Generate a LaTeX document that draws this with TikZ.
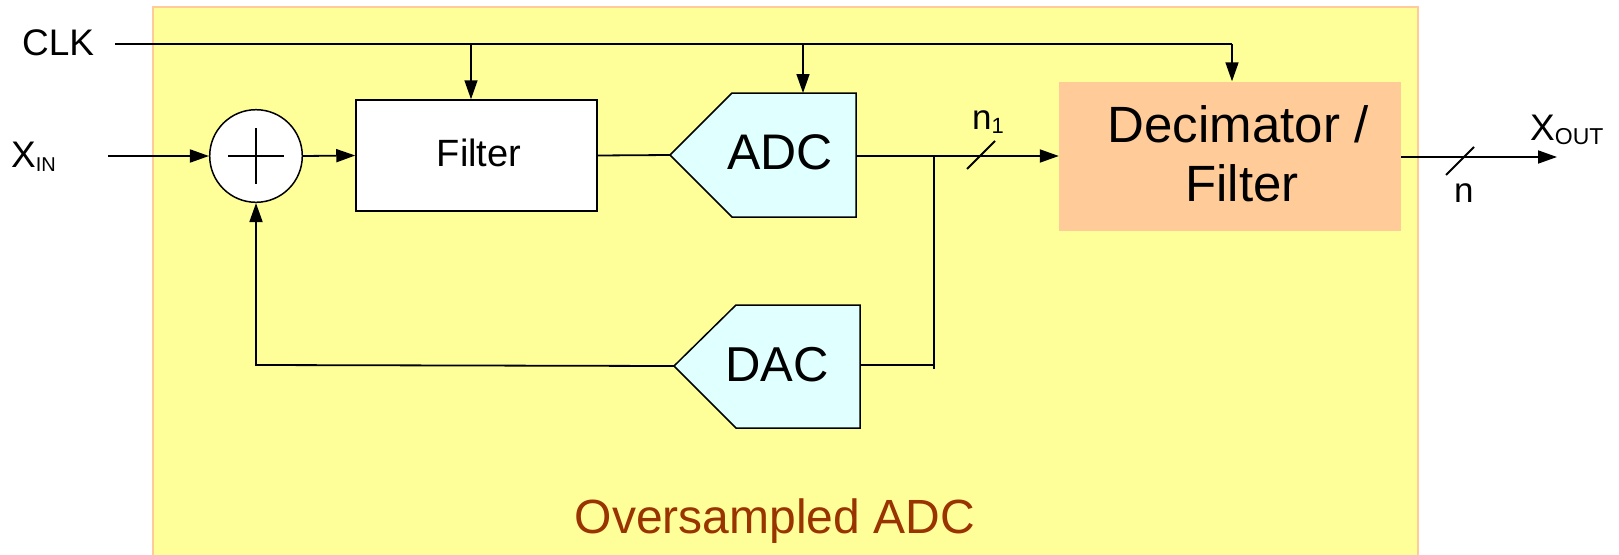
\documentclass[tikz,border=0pt]{standalone}
\usepackage{fontspec}
\setmainfont{Liberation Sans}
\usetikzlibrary{arrows.meta}
\definecolor{bgyellow}{HTML}{FFFF99}
\definecolor{bgedge}{HTML}{FFCC99}
\definecolor{decfill}{HTML}{FFCC99}
\definecolor{convfill}{HTML}{E0FFFF}
\definecolor{titlebrown}{HTML}{993300}
\newcommand\myfs[1]{\fontsize{#1}{#1}\selectfont}
\begin{document}
\begin{tikzpicture}[x=1pt,y=-1pt,
  wire/.style={line width=1.8pt,draw=black},
  clkwire/.style={line width=1.5pt,draw=black},
  arr/.style={wire,-{Triangle[length=19pt,width=13pt]}},
  clkarr/.style={clkwire,-{Triangle[length=19pt,width=13pt]}},
  blockbox/.style={draw=black,line width=1.5pt,fill=white,inner sep=0pt},
  convbox/.style={draw=black,line width=1.5pt,fill=convfill},
  lbl/.style={inner sep=0pt,anchor=base,text=black},
]
\useasboundingbox (0,0) rectangle (1619,554);
% background panel
\path[fill=bgyellow,draw=bgedge,line width=2pt] (153,7) rectangle (1418,570);

% blocks
\node[blockbox,circle,minimum size=92.6pt] (sum) at (256,156) {};
\draw[line width=1.5pt] (228,156) -- (284,156) (256,128) -- (256,184);

\node[blockbox,minimum width=241pt,minimum height=111pt] (filter) at (476.5,155.5) {};
\node[lbl] (filtertext) at (479,166) {\myfs{38}Filter};

\path[convbox] (670,155) -- (732,93) -- (856,93) -- (856,217) -- (732,217) -- cycle;
\coordinate (adcin) at (670,155);
\coordinate (adcout) at (856,156);
\coordinate (adctop) at (803,93);
\node[lbl] (adc) at (780,169) {\myfs{50}ADC};

\path[convbox] (674,366) -- (736,305) -- (860,305) -- (860,428) -- (736,428) -- cycle;
\coordinate (dactip) at (674,366);
\coordinate (dacout) at (860,365);
\node[lbl] (dac) at (777,381) {\myfs{49}DAC};

\node[fill=decfill,minimum width=342pt,minimum height=149pt,inner sep=0pt] (dec) at (1230,156) {};
\node[lbl] (dec1) at (1238,142) {\myfs{51}Decimator /};
\node[lbl] (dec2) at (1242,201) {\myfs{51}Filter};

% labels
\node[lbl,anchor=base west] (clk) at (22,55) {\myfs{37}CLK};
\node[lbl,anchor=base west] (xinlbl) at (11,167) {\myfs{37}X\raisebox{-4pt}{\myfs{20}IN}};
\node[lbl,anchor=base west] (xoutlbl) at (1530,140) {\myfs{37}X\raisebox{-4pt}{\myfs{23}OUT}};
\node[lbl,anchor=base west] (n1lbl) at (972,129) {\myfs{35}n\raisebox{-4pt}{\myfs{22}1}};
\node[lbl,anchor=base west] (nlbl) at (1454,202) {\myfs{35}n};
\node[lbl,text=titlebrown] (title) at (775,533) {\myfs{48}Oversampled ADC};

% coordinates
\coordinate (xin) at (108,156);
\coordinate (clkstart) at (115,44);
\coordinate (tapf) at (471,44);
\coordinate (tapa) at (803,44);
\coordinate (clkcorner) at (1232,44);
\coordinate (j1) at (934,156);
\coordinate (j2) at (934,365);
\coordinate (j2end) at (934,369);
\coordinate (fbcorner) at (256,365);
\coordinate (xout) at (1557,157);
\coordinate (s1a) at (967,169);
\coordinate (s1b) at (995,141);
\coordinate (s2a) at (1446,175);
\coordinate (s2b) at (1474,147);

% connectors
\draw[arr] (xin) -- (sum.west);
\draw[arr] (sum.east) -- (filter.west);
\draw[wire] (filter.east) -- (adcin);
\draw[wire] (adcout) -- (j1);
\draw[arr] (j1) -- (j1 -| dec.west);
\draw[wire] (j1) -- (j2end);
\draw[wire] (dacout) -- (j2);
\draw[arr] (dactip) -- (fbcorner) -- (sum.south);
\draw[arr] (dec.east |- xout) -- (xout);
\draw[wire] (s1a) -- (s1b);
\draw[wire] (s2a) -- (s2b);

% clock
\draw[clkwire] (clkstart) -- (clkcorner);
\draw[clkarr] (clkcorner) -- (clkcorner |- dec.north);
\draw[clkarr] (tapf) -- (tapf |- filter.north);
\draw[clkarr] (tapa) -- (adctop);
\end{tikzpicture}
\end{document}
